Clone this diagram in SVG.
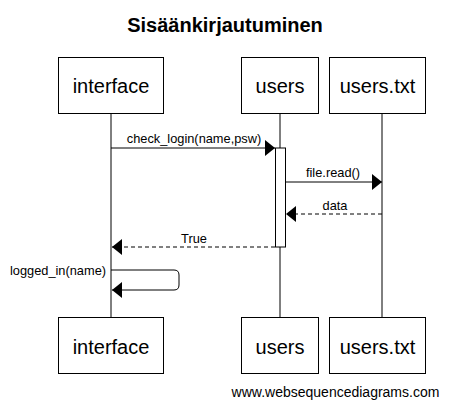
<svg xmlns="http://www.w3.org/2000/svg" width="450" height="409" viewBox="0 0 450 409">
<defs>
<style>
.box{fill:#fff;stroke:#000;stroke-width:1}
.bt{font-family:"Liberation Sans",Arial,sans-serif;font-size:20px;text-anchor:middle;fill:#000}
.lt{font-family:"Liberation Sans",Arial,sans-serif;font-size:12.8px;text-anchor:middle;fill:#000}
.life{stroke:#000;stroke-width:1}
.msg{stroke:#000;stroke-width:1;fill:none}
.dash{stroke-dasharray:4,3}
</style>
<marker id="ah" markerWidth="10" markerHeight="16" refX="10" refY="8" orient="auto" markerUnits="userSpaceOnUse">
<path d="M0,0 L10,8 L0,16 Z" fill="#000"/>
</marker>
</defs>
<rect width="450" height="409" fill="#fff"/>
<text x="225" y="32" font-family="Liberation Sans,Arial,sans-serif" font-size="20" font-weight="bold" text-anchor="middle">Sisäänkirjautuminen</text>
<g id="lifelines">
<line class="life" x1="111" y1="113" x2="111" y2="317"/>
<line class="life" x1="280" y1="113" x2="280" y2="317"/>
<line class="life" x1="382" y1="113" x2="382" y2="317"/>
</g>
<g id="activation"><rect class="box" x="275.5" y="148" width="10" height="99"/></g>
<g id="connectors">
<line class="msg" x1="111" y1="148" x2="275" y2="148" marker-end="url(#ah)"/>
<text class="lt" x="194" y="143">check_login(name,psw)</text>
<line class="msg" x1="286" y1="182" x2="382" y2="182" marker-end="url(#ah)"/>
<text class="lt" x="333" y="177">file.read()</text>
<line class="msg dash" x1="382" y1="214" x2="286" y2="214" marker-end="url(#ah)"/>
<text class="lt" x="335" y="210">data</text>
<line class="msg dash" x1="275" y1="247" x2="112" y2="247" marker-end="url(#ah)"/>
<text class="lt" x="194" y="243">True</text>
<path class="msg" d="M111,270 L174,270 Q179,270 179,275 L179,285 Q179,290 174,290 L112,290" marker-end="url(#ah)"/>
<text class="lt" x="58" y="275">logged_in(name)</text>
</g>
<g id="interface-top"><rect class="box" x="58.5" y="57.5" width="105" height="56"/><text class="bt" x="111" y="93">interface</text></g>
<g id="users-top"><rect class="box" x="241.5" y="57.5" width="77" height="56"/><text class="bt" x="280" y="93">users</text></g>
<g id="userstxt-top"><rect class="box" x="329.5" y="57.5" width="96" height="56"/><text class="bt" x="377.5" y="93">users.txt</text></g>
<g id="interface-bottom"><rect class="box" x="58.5" y="317.5" width="105" height="56"/><text class="bt" x="111" y="354">interface</text></g>
<g id="users-bottom"><rect class="box" x="241.5" y="317.5" width="77" height="56"/><text class="bt" x="280" y="354">users</text></g>
<g id="userstxt-bottom"><rect class="box" x="329.5" y="317.5" width="96" height="56"/><text class="bt" x="377.5" y="354">users.txt</text></g>
<text x="335.5" y="397" font-family="Liberation Sans,Arial,sans-serif" font-size="14" text-anchor="middle">www.websequencediagrams.com</text>
</svg>
